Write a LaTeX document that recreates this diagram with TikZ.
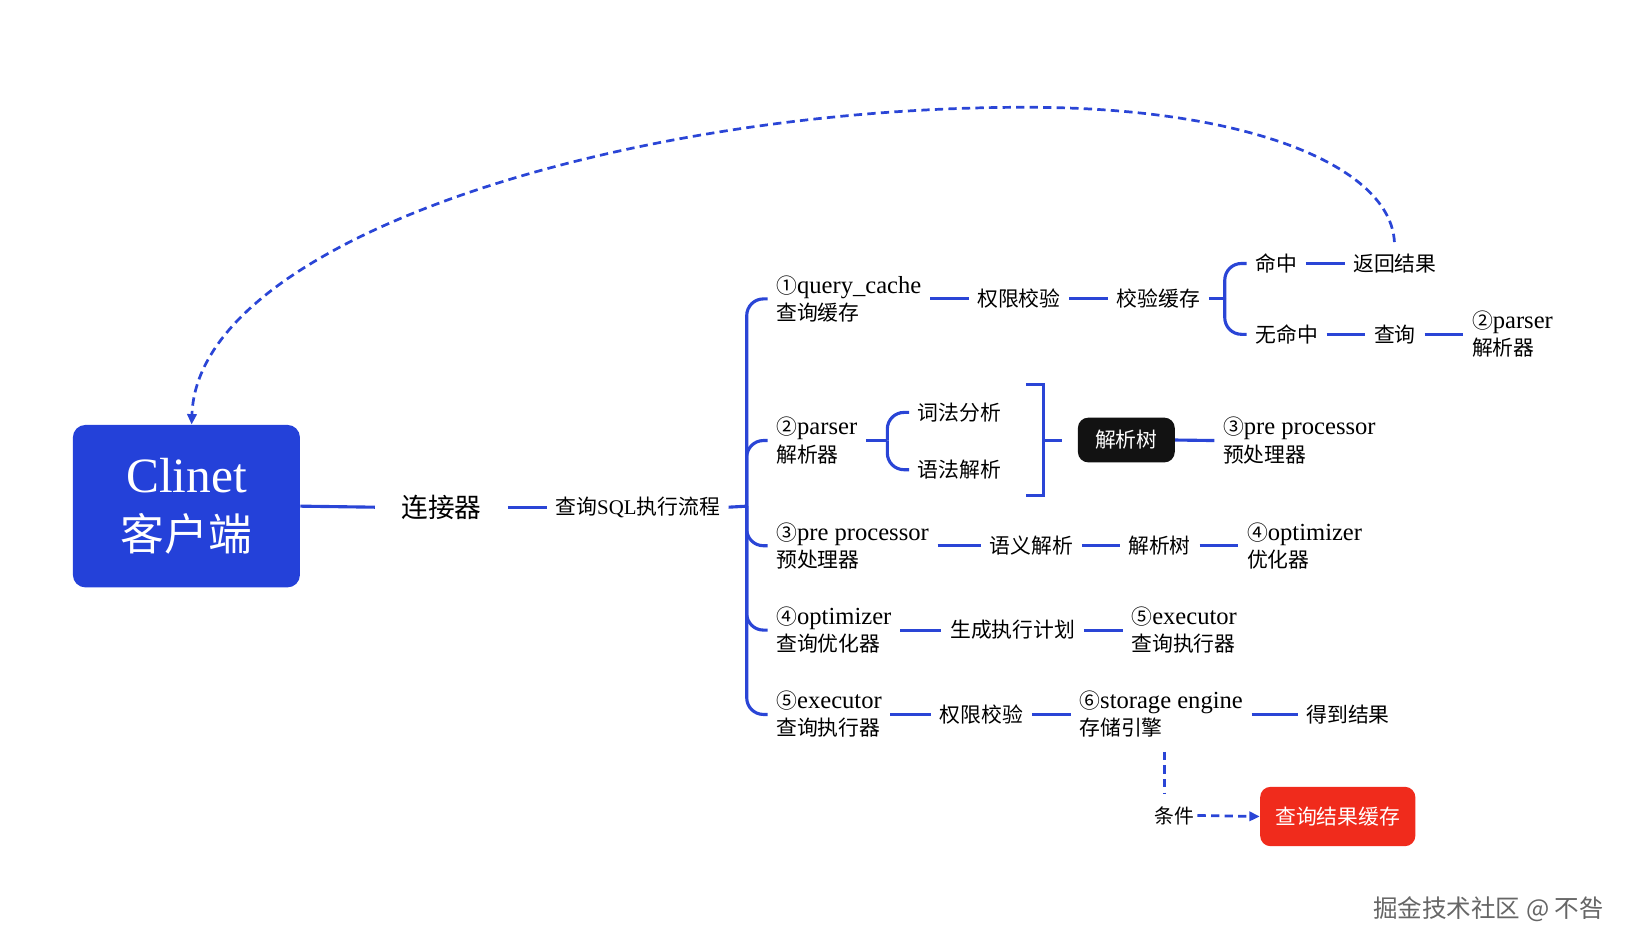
\documentclass[tikz,border=0pt]{standalone}
\usepackage{fontspec}
\setmainfont{Liberation Serif}
\newfontfamily\cjk{Noto Sans CJK SC}
\usetikzlibrary{arrows.meta}
\definecolor{lineblue}{HTML}{2A45D6}
\definecolor{boxblue}{HTML}{2441D9}
\definecolor{boxred}{HTML}{F02B1C}
\newcommand\zhs[1]{{\cjk\fontsize{10}{13}\selectfont #1}}
\begin{document}
\begin{tikzpicture}[x=0.5pt,y=-0.5pt,
  conn/.style={draw=lineblue, line width=1.5pt},
  brace/.style={conn, rounded corners=8pt},
  lbl/.style={anchor=west, inner xsep=4pt, inner ysep=1pt, align=left, font=\fontsize{11.8}{13}\selectfont},
  zh/.style={anchor=west, inner xsep=4pt, inner ysep=1pt, font=\cjk\fontsize{10}{13}\selectfont},
  dashconn/.style={draw=lineblue, line width=1.3pt, dash pattern=on 4pt off 2.5pt},
  tip/.style={-{Triangle[length=5pt,width=4.5pt]}}
]
\useasboundingbox (0,0) rectangle (1568,911);

% client and trunk
\node[fill=boxblue, rounded corners=6pt, minimum width=109pt, minimum height=78pt, text=white, align=center, inner sep=0, font=\fontsize{21}{28}\selectfont] (client) at (179,486)
  {{\fontsize{23.7}{28}\selectfont Clinet}\\{\cjk\fontsize{21}{28}\selectfont 客户端}};
\node[zh, inner xsep=12.5pt, font=\cjk\fontsize{12.8}{15}\selectfont] (conn) at (360,487) {连接器};
\node[anchor=west, inner xsep=4pt, inner ysep=1pt, font=\fontsize{10}{13}\selectfont] (sql) at (525,487) {{\cjk 查询}SQL{\cjk 执行流程}};
\coordinate (mb) at (717,486);

% first-level nodes
\node[lbl] (q1) at (737,287) {\zhs{①}query\_cache\\\zhs{查询缓存}};
\node[lbl] (p1) at (737,423) {\zhs{②}parser\\\zhs{解析器}};
\node[lbl] (pp1) at (737,524) {\zhs{③}pre processor\\\zhs{预处理器}};
\node[lbl] (o1) at (737,605) {\zhs{④}optimizer\\\zhs{查询优化器}};
\node[lbl] (e1) at (737,686) {\zhs{⑤}executor\\\zhs{查询执行器}};

% row 1
\node[zh] (qa) at (930,287) {权限校验};
\node[zh] (qb) at (1064,287) {校验缓存};
\coordinate (b1) at (1176,287);
\node[zh] (hit) at (1197,253) {命中};
\node[zh] (ret) at (1291,253) {返回结果};
\node[zh] (miss) at (1197,321) {无命中};
\node[zh] (qry) at (1311,321) {查询};
\node[lbl] (p2) at (1405,321) {\zhs{②}parser\\\zhs{解析器}};

% row 2
\coordinate (b2) at (852,423);
\node[zh] (lex) at (873,396) {词法分析};
\node[zh] (syn) at (873,451) {语法解析};
\coordinate (rbt) at (985,369);
\coordinate (rbm) at (1002,423);
\coordinate (rbb) at (985,476);
\coordinate (rbo) at (1020,423);
\node[fill=black!93, rounded corners=5pt, minimum width=46.5pt, minimum height=21.5pt, inner sep=0, text=white, font=\cjk\fontsize{10}{13}\selectfont] (tree) at (1081.5,422.5) {解析树};
\node[lbl] (pp2) at (1166,423) {\zhs{③}pre processor\\\zhs{预处理器}};

% row 3
\node[zh] (sem) at (942,524) {语义解析};
\node[zh] (tree2) at (1075,524) {解析树};
\node[lbl] (o2) at (1189,524) {\zhs{④}optimizer\\\zhs{优化器}};

% row 4
\node[zh] (plan) at (904,605) {生成执行计划};
\node[lbl] (e2) at (1078,605) {\zhs{⑤}executor\\\zhs{查询执行器}};

% row 5
\node[zh] (auth) at (894,686) {权限校验};
\node[lbl] (se) at (1028,686) {\zhs{⑥}storage engine\\\zhs{存储引擎}};
\node[zh] (res) at (1246,686) {得到结果};
\coordinate (sd1) at (1118,722);
\coordinate (sd2) at (1118,762);
\node[anchor=west, inner xsep=1.5pt, inner ysep=1pt, font=\cjk\fontsize{9.5}{13}\selectfont] (cond) at (1105,783) {条件};
\node[fill=boxred, rounded corners=5pt, minimum width=74.5pt, minimum height=28.5pt, inner sep=0, text=white, font=\cjk\fontsize{10}{13}\selectfont] (red) at (1284.5,784) {查询结果缓存};

% watermark
\node[anchor=west, inner sep=0, text=black!60, font=\cjk\fontsize{11.8}{14}\selectfont] (wm) at (1318,873) {掘金技术社区 @ 不咎};

% connectors
\draw[conn] (client.east) -- (conn.west);
\draw[conn] (conn.east) -- (sql.west);
\draw[conn] (sql.east) -- (mb);
\foreach \n in {q1,p1,pp1,o1,e1} \draw[brace] (mb) |- (\n.west);

\draw[conn] (q1.east) -- (qa.west);
\draw[conn] (qa.east) -- (qb.west);
\draw[conn] (qb.east) -- (b1);
\draw[brace] (b1) |- (hit.west);
\draw[brace] (b1) |- (miss.west);
\draw[conn] (hit.east) -- (ret.west);
\draw[conn] (miss.east) -- (qry.west);
\draw[conn] (qry.east) -- (p2.west);

\draw[conn] (p1.east) -- (b2);
\draw[brace] (b2) |- (lex.west);
\draw[brace] (b2) |- (syn.west);
\draw[conn] (rbt) -| (rbm) |- (rbb);
\draw[conn] (rbm) -- (rbo);
\draw[conn] (tree.east) -- (pp2.west);

\draw[conn] (pp1.east) -- (sem.west);
\draw[conn] (sem.east) -- (tree2.west);
\draw[conn] (tree2.east) -- (o2.west);

\draw[conn] (o1.east) -- (plan.west);
\draw[conn] (plan.east) -- (e2.west);

\draw[conn] (e1.east) -- (auth.west);
\draw[conn] (auth.east) -- (se.west);
\draw[conn] (se.east) -- (res.west);

\draw[dashconn] (sd1) -- (sd2);
\draw[dashconn, tip] (cond.east) -- (red.west);
\draw[dashconn, tip, shorten <=4.5pt] (ret.north) .. controls (1335,160) and (1200,103) .. (985,103)
  .. controls (600,103) and (190,230) .. ([xshift=2.5pt]client.north);
\end{tikzpicture}
\end{document}
